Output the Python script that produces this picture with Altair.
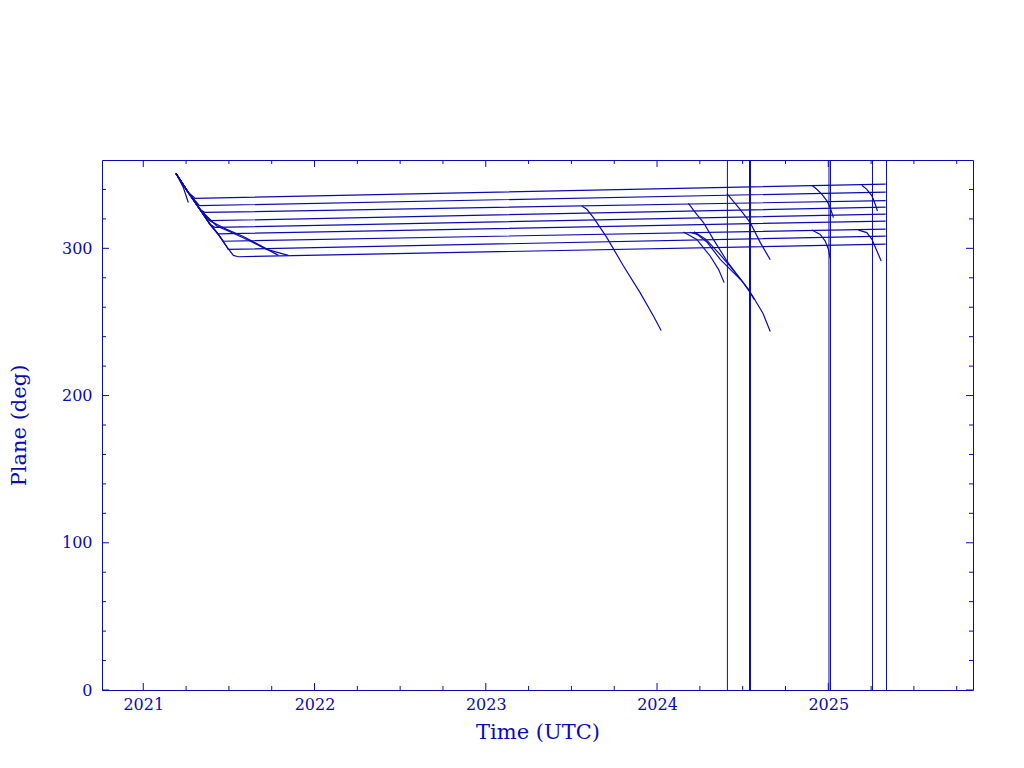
import altair as alt
import pandas as pd

C = "#0a0ab4"
FONT = "DejaVu Serif"

# ---------------- data ----------------
ENV_T = [2021.191, 2021.263, 2021.331, 2021.390, 2021.438, 2021.487, 2021.526, 2021.555]
ENV_D = [350.8, 337.9, 326.5, 316.3, 309.5, 301.2, 295.2, 294.3]

PLANE_T0 = [2021.302, 2021.328, 2021.360, 2021.390, 2021.419, 2021.438, 2021.468, 2021.496, 2021.555]
PLANE_D0 = [334.0, 329.0, 324.4, 318.8, 314.2, 309.8, 304.8, 299.3, 294.3]
PLANE_T1 = [2025.335] * 9
PLANE_D1 = [343.6, 338.2, 332.4, 328.0, 323.2, 318.5, 313.1, 308.3, 302.8]

EARLY_T = [2021.191, 2021.234, 2021.263]
EARLY_D = [350.8, 341.3, 331.1]
SLOW1_T = [2021.191, 2021.263, 2021.331, 2021.390, 2021.487, 2021.584, 2021.682, 2021.789]
SLOW1_D = [350.8, 337.9, 326.5, 318.6, 312.9, 308.0, 302.0, 295.2]
SLOW2_T = [2021.191, 2021.263, 2021.331, 2021.429, 2021.526, 2021.623, 2021.721, 2021.847]
SLOW2_D = [350.8, 337.9, 326.5, 315.2, 310.2, 305.0, 299.3, 295.2]

D1_T = [2023.561, 2023.590, 2023.629, 2023.668, 2023.707, 2023.804, 2023.901, 2023.979, 2024.024]
D1_D = [328.8, 326.5, 320.9, 314.1, 307.3, 288.0, 269.9, 254.0, 244.2]
T1_T = [2024.183, 2024.232, 2024.271, 2024.329, 2024.408, 2024.466, 2024.534, 2024.567]
T1_D = [330.6, 323.1, 317.5, 306.1, 291.4, 282.3, 272.1, 265.3]
T2_T = [2024.408, 2024.485, 2024.544, 2024.603, 2024.661]
T2_D = [337.2, 326.5, 317.5, 303.9, 292.2]
T3_T = [2024.154, 2024.232, 2024.310, 2024.359, 2024.392]
T3_D = [311.1, 306.1, 294.8, 285.7, 276.7]
T4_T = [2024.193, 2024.234, 2024.293, 2024.369, 2024.445, 2024.486]
T4_D = [310.9, 309.5, 304.1, 292.5, 283.7, 278.9]
T5_T = [2024.216, 2024.286, 2024.362, 2024.432, 2024.502, 2024.560, 2024.619, 2024.661]
T5_D = [311.2, 306.1, 296.6, 287.1, 276.9, 267.3, 255.8, 243.5]
L1_T = [2024.904, 2024.933, 2024.963, 2024.992, 2025.011, 2025.030]
L1_D = [342.9, 340.1, 336.7, 332.2, 327.7, 320.9]
L2_T = [2024.904, 2024.953, 2024.982, 2025.001, 2025.011]
L2_D = [312.4, 309.5, 304.9, 299.3, 293.2]
L3_T = [2025.196, 2025.225, 2025.255, 2025.274, 2025.287]
L3_D = [342.9, 340.1, 335.6, 329.9, 325.4]
L4_T = [2025.176, 2025.225, 2025.255, 2025.284, 2025.309]
L4_D = [312.4, 310.7, 306.1, 298.2, 291.4]

VERT_T = [2024.411, 2024.540, 2024.546, 2025.004, 2025.013, 2025.258, 2025.340]

X_MAJOR = [2021, 2022, 2023, 2024, 2025]
X_MINOR = [2021.25, 2021.5, 2021.75, 2022.25, 2022.5, 2022.75, 2023.25, 2023.5, 2023.75,
           2024.25, 2024.5, 2024.75, 2025.25, 2025.5, 2025.75]
Y_MAJOR = [0, 100, 200, 300]
Y_MINOR = [20, 40, 60, 80, 120, 140, 160, 180, 220, 240, 260, 280, 320, 340]

# ---------------- build tables ----------------
rows = []
def add(name, ts, ds):
    for i, (t, d) in enumerate(zip(ts, ds)):
        rows.append({"track": name, "i": i, "t": t, "deg": d})

for k in range(9):
    ts = [t for t in ENV_T if t < PLANE_T0[k]]
    ds = [d for t, d in zip(ENV_T, ENV_D) if t < PLANE_T0[k]]
    add(f"P{k+1}", ts + [PLANE_T0[k], PLANE_T1[k]], ds + [PLANE_D0[k], PLANE_D1[k]])

add("early", EARLY_T, EARLY_D)
add("slow1", SLOW1_T, SLOW1_D)
add("slow2", SLOW2_T, SLOW2_D)
for name, ts, ds in [("D1", D1_T, D1_D), ("T1", T1_T, T1_D), ("T2", T2_T, T2_D),
                     ("T3", T3_T, T3_D), ("T4", T4_T, T4_D), ("T5", T5_T, T5_D),
                     ("L1", L1_T, L1_D), ("L2", L2_T, L2_D), ("L3", L3_T, L3_D),
                     ("L4", L4_T, L4_D)]:
    add(name, ts, ds)
tracks = pd.DataFrame(rows)
verts = pd.DataFrame({"t": VERT_T, "deg": [0] * len(VERT_T), "hi": [360] * len(VERT_T)})

W, H = 871, 530
xs = alt.Scale(domain=[2020.759, 2025.845], nice=False, zero=False)
ys = alt.Scale(domain=[0, 360], nice=False, zero=False)

AX_X = alt.Axis(values=X_MAJOR, format="d", title="Time (UTC)", labelFlush=False,
                grid=False, domain=False, ticks=False,
                labelFont=FONT, labelFontSize=16, labelColor=C,
                titleFont=FONT, titleColor=C, titleFontWeight="normal",
                labelPadding=6, titleY=42, titleBaseline="middle", titleFontSize=21)
AX_Y = alt.Axis(values=Y_MAJOR, format="d", title="Plane (deg)", labelPadding=10,
                grid=False, domain=False, ticks=False,
                labelFont=FONT, labelFontSize=16, labelColor=C,
                titleFont=FONT, titleColor=C, titleFontWeight="normal",
                titleX=-83, titleY=H / 2, titleAngle=270, titleAlign="center",
                titleBaseline="middle", titleFontSize=21)

lines = alt.Chart(tracks).mark_line(color=C, strokeWidth=1.2, clip=True).encode(
    x=alt.X("t:Q", scale=xs, axis=AX_X),
    y=alt.Y("deg:Q", scale=ys, axis=AX_Y),
    detail="track:N",
    order="i:Q",
)

vrules = alt.Chart(verts).mark_rule(color=C, strokeWidth=1, clip=True).encode(
    x=alt.X("t:Q", scale=xs, axis=AX_X),
    y=alt.Y("deg:Q", scale=ys, axis=AX_Y),
    y2="hi:Q",
)

def xticks(vals, length):
    df = pd.DataFrame({"t": vals})
    base = alt.Chart(df).mark_rule(color=C, strokeWidth=1)
    b = base.encode(x=alt.X("t:Q", scale=xs, axis=AX_X), y=alt.value(H), y2=alt.value(H - length))
    t = base.encode(x=alt.X("t:Q", scale=xs, axis=AX_X), y=alt.value(0), y2=alt.value(length))
    return [b, t]

def yticks(vals, length):
    df = pd.DataFrame({"deg": vals})
    base = alt.Chart(df).mark_rule(color=C, strokeWidth=1)
    l = base.encode(y=alt.Y("deg:Q", scale=ys, axis=AX_Y), x=alt.value(0), x2=alt.value(length))
    r = base.encode(y=alt.Y("deg:Q", scale=ys, axis=AX_Y), x=alt.value(W), x2=alt.value(W - length))
    return [l, r]

layers = [lines, vrules] + xticks(X_MAJOR, 7) + xticks(X_MINOR, 4) + yticks(Y_MAJOR, 7) + yticks(Y_MINOR, 4)

chart = alt.layer(*layers).properties(
    width=W, height=H,
    background="white",
    autosize=alt.AutoSizeParams(type="none"),
    padding={"left": 94, "top": 152, "right": 43, "bottom": 70},
).configure_view(
    stroke=C, strokeWidth=1, fill="white"
).configure_axis(
    grid=False, domain=False, ticks=False,
)

chart.save("out.html", embed_options={"renderer": "svg", "actions": False})
